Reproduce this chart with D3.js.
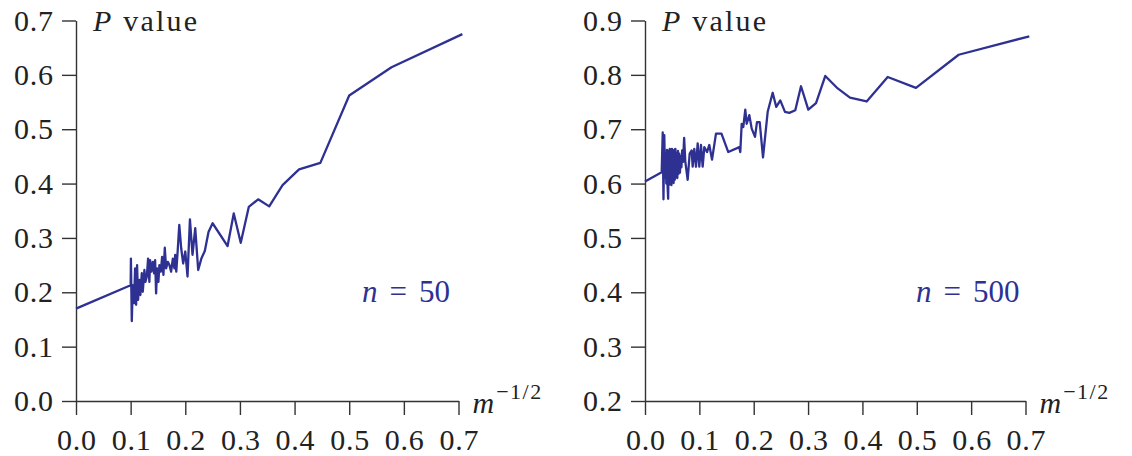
<!DOCTYPE html>
<html><head><meta charset="utf-8">
<script src="https://cdn.jsdelivr.net/npm/d3@7"></script>
<style>
body{margin:0;background:#fff;}
svg{display:block;}
</style></head>
<body>
<svg id="c" width="1132" height="456"></svg>
<script>
// ---- data (x = m^{-1/2}, y = P value) ----
const xTicks = [0.0,0.1,0.2,0.3,0.4,0.5,0.6,0.7];
const leftYTicks = [0.0,0.1,0.2,0.3,0.4,0.5,0.6,0.7];
const rightYTicks = [0.2,0.3,0.4,0.5,0.6,0.7,0.8,0.9];

const leftX = [0,0.100,0.1005,0.1021,0.1039,0.1063,0.1081,0.1100,0.1118,0.1136,0.1160,0.1178,0.1204,0.1222,0.1252,0.1270,0.1296,0.1319,0.1343,0.1356,0.1380,0.1406,0.1429,0.1448,0.1466,0.1484,0.1508,0.1526,0.1552,0.1576,0.1600,0.1625,0.1649,0.1680,0.1710,0.1741,0.1772,0.1801,0.1815,0.1835,0.1860,0.1890,0.1925,0.1961,0.2000,0.2041,0.2085,0.2132,0.2182,0.2236,0.2294,0.2357,0.2425,0.2500,0.2774,0.2887,0.3015,0.3162,0.3333,0.3536,0.3780,0.4082,0.4472,0.5000,0.5774,0.7071];
const leftY = [0.170,0.213,0.262,0.147,0.213,0.180,0.244,0.177,0.250,0.186,0.223,0.195,0.235,0.201,0.241,0.219,0.229,0.262,0.219,0.259,0.238,0.256,0.235,0.259,0.198,0.244,0.219,0.250,0.238,0.265,0.232,0.282,0.244,0.256,0.250,0.238,0.262,0.244,0.269,0.238,0.275,0.324,0.281,0.253,0.275,0.229,0.334,0.269,0.318,0.241,0.262,0.276,0.311,0.327,0.285,0.345,0.291,0.357,0.371,0.358,0.397,0.426,0.438,0.562,0.614,0.675];

const rightX = [0,0.0307,0.0326,0.0340,0.0355,0.0368,0.0380,0.0392,0.0404,0.0415,0.0426,0.0436,0.0446,0.0456,0.0466,0.0476,0.0486,0.0496,0.0506,0.0516,0.0526,0.0537,0.0548,0.0559,0.0570,0.0582,0.0594,0.0606,0.0618,0.0630,0.0643,0.0656,0.0670,0.0684,0.0700,0.0720,0.0742,0.0785,0.0822,0.0859,0.0877,0.0907,0.0938,0.0969,0.0999,0.1030,0.1061,0.1091,0.1141,0.1183,0.1233,0.1306,0.1407,0.1532,0.1735,0.1753,0.1779,0.1808,0.1845,0.1871,0.1919,0.1963,0.2024,0.2060,0.2110,0.2171,0.2257,0.2349,0.2415,0.2489,0.2575,0.2655,0.2765,0.2870,0.3004,0.3146,0.3317,0.3545,0.3771,0.4078,0.4465,0.4985,0.5771,0.7070];
const rightY = [0.604,0.621,0.694,0.571,0.689,0.610,0.655,0.600,0.662,0.596,0.572,0.661,0.598,0.664,0.603,0.660,0.597,0.664,0.604,0.661,0.601,0.662,0.607,0.664,0.612,0.655,0.610,0.660,0.618,0.655,0.620,0.650,0.630,0.661,0.640,0.684,0.640,0.607,0.655,0.661,0.631,0.664,0.631,0.674,0.631,0.671,0.631,0.667,0.658,0.671,0.644,0.692,0.692,0.658,0.667,0.658,0.710,0.704,0.736,0.710,0.726,0.701,0.686,0.713,0.713,0.648,0.732,0.767,0.741,0.753,0.732,0.730,0.735,0.779,0.736,0.748,0.798,0.775,0.758,0.751,0.796,0.776,0.837,0.871];

const lineColor = "#2e3192";
const serif = "'Liberation Serif', 'DejaVu Serif', 'Times New Roman', serif";
const svg = d3.select("#c");

function panel(cfg){
  const x = d3.scaleLinear().domain([0,0.7]).range([cfg.x0, cfg.x1]);
  const y = d3.scaleLinear().domain(cfg.yDomain).range([401, 20.5]);
  const g = svg.append("g");

  const ya = g.append("g").attr("transform",`translate(${cfg.x0},0)`)
    .call(d3.axisLeft(y).tickValues(cfg.yTicks).tickFormat(d3.format(".1f"))
      .tickSizeInner(14).tickSizeOuter(0).tickPadding(9));
  const xa = g.append("g").attr("transform",`translate(0,401)`)
    .call(d3.axisBottom(x).tickValues(xTicks).tickFormat(d3.format(".1f"))
      .tickSizeInner(14).tickSizeOuter(0).tickPadding(14));
  [ya,xa].forEach(a=>{
    a.attr("font-family",null).attr("font-size",null);
    a.select(".domain").attr("stroke","#333").attr("stroke-width",1.4);
    a.selectAll(".tick line").attr("stroke","#333").attr("stroke-width",1.4);
    a.selectAll(".tick text").style("font-size","30px").style("fill","#222")
      .attr("textLength",39).attr("lengthAdjust","spacing");
  });

  const data = cfg.xs.map((d,i)=>[d, cfg.ys[i]]);
  g.append("path").datum(data)
    .attr("fill","none").attr("stroke",lineColor).attr("stroke-width",2.3)
    .attr("stroke-linejoin","round")
    .attr("d", d3.line().x(d=>x(d[0])).y(d=>y(d[1])));

  // y label
  const yl = g.append("text").attr("x",cfg.x0+17).attr("y",31).style("font-size","30px").style("fill","#222")
    .attr("textLength",104).attr("lengthAdjust","spacing");
  yl.append("tspan").style("font-style","italic").text("P");
  yl.append("tspan").text(" value");

  // x label
  const xl = g.append("text").attr("x",cfg.x1+14).attr("y",413).style("font-size","30px").style("fill","#222");
  xl.append("tspan").style("font-style","italic").text("m");
  xl.append("tspan").style("font-size","22px").style("letter-spacing","1.5px").attr("dy",-14).attr("dx",2).text("\u22121/2");

  // n label
  const nl = g.append("text").attr("x",cfg.nx).attr("y",302).style("font-size","31px").style("fill",lineColor);
  nl.append("tspan").style("font-style","italic").text("n");
  nl.append("tspan").attr("dx",12).text("=");
  nl.append("tspan").attr("dx",12).text(cfg.n);
}

panel({x0:76, x1:458.5, yDomain:[0,0.7], yTicks:leftYTicks, xs:leftX, ys:leftY, nx:362, n:"50"});
panel({x0:645, x1:1025.5, yDomain:[0.2,0.9], yTicks:rightYTicks, xs:rightX, ys:rightY, nx:916, n:"500"});

svg.selectAll("text").style("font-family", serif);
</script>
</body></html>
